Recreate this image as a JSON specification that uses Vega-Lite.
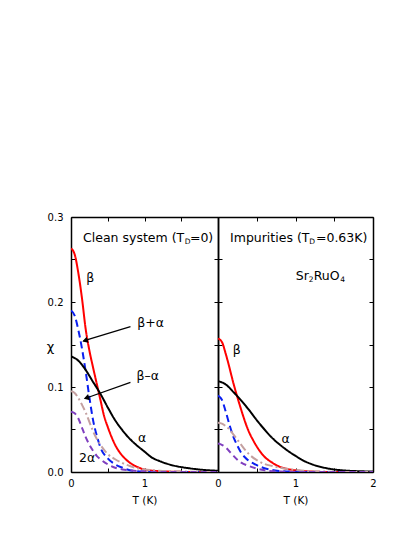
{
"$schema": "https://vega.github.io/schema/vega-lite/v6.json",
"padding": {"left": 46, "top": 212, "right": 0, "bottom": 0},
"spacing": 0,
"bounds": "flush",
"datasets": {
"curves": [
{"p":"c","s":"beta","T":0,"v":0.263},{"p":"c","s":"beta","T":0.05,"v":0.256},{"p":"c","s":"beta","T":0.1,"v":0.234},{"p":"c","s":"beta","T":0.15,"v":0.204},{"p":"c","s":"beta","T":0.2,"v":0.168},{"p":"c","s":"beta","T":0.25,"v":0.143},{"p":"c","s":"beta","T":0.3,"v":0.123},{"p":"c","s":"beta","T":0.35,"v":0.104},{"p":"c","s":"beta","T":0.4,"v":0.085},{"p":"c","s":"beta","T":0.45,"v":0.066},{"p":"c","s":"beta","T":0.5,"v":0.053},{"p":"c","s":"beta","T":0.6,"v":0.032},{"p":"c","s":"beta","T":0.7,"v":0.019},{"p":"c","s":"beta","T":0.8,"v":0.011},{"p":"c","s":"beta","T":0.9,"v":0.006},{"p":"c","s":"beta","T":1.0,"v":0.003},{"p":"c","s":"beta","T":1.2,"v":0.001},{"p":"c","s":"beta","T":1.4,"v":0.0003},{"p":"c","s":"beta","T":1.7,"v":0},{"p":"c","s":"beta","T":2.0,"v":0},
{"p":"c","s":"betaplus","T":0,"v":0.19},{"p":"c","s":"betaplus","T":0.05,"v":0.184},{"p":"c","s":"betaplus","T":0.1,"v":0.167},{"p":"c","s":"betaplus","T":0.15,"v":0.145},{"p":"c","s":"betaplus","T":0.2,"v":0.118},{"p":"c","s":"betaplus","T":0.25,"v":0.088},{"p":"c","s":"betaplus","T":0.3,"v":0.061},{"p":"c","s":"betaplus","T":0.35,"v":0.043},{"p":"c","s":"betaplus","T":0.4,"v":0.029},{"p":"c","s":"betaplus","T":0.5,"v":0.016},{"p":"c","s":"betaplus","T":0.6,"v":0.009},{"p":"c","s":"betaplus","T":0.7,"v":0.005},{"p":"c","s":"betaplus","T":0.8,"v":0.002},{"p":"c","s":"betaplus","T":0.9,"v":0.001},{"p":"c","s":"betaplus","T":1.0,"v":0.0005},{"p":"c","s":"betaplus","T":1.2,"v":0},{"p":"c","s":"betaplus","T":2.0,"v":0},
{"p":"c","s":"alpha","T":0,"v":0.136},{"p":"c","s":"alpha","T":0.1,"v":0.131},{"p":"c","s":"alpha","T":0.2,"v":0.12},{"p":"c","s":"alpha","T":0.3,"v":0.106},{"p":"c","s":"alpha","T":0.4,"v":0.092},{"p":"c","s":"alpha","T":0.5,"v":0.076},{"p":"c","s":"alpha","T":0.6,"v":0.061},{"p":"c","s":"alpha","T":0.7,"v":0.049},{"p":"c","s":"alpha","T":0.8,"v":0.039},{"p":"c","s":"alpha","T":0.9,"v":0.031},{"p":"c","s":"alpha","T":1.0,"v":0.024},{"p":"c","s":"alpha","T":1.1,"v":0.017},{"p":"c","s":"alpha","T":1.2,"v":0.013},{"p":"c","s":"alpha","T":1.4,"v":0.0075},{"p":"c","s":"alpha","T":1.6,"v":0.0045},{"p":"c","s":"alpha","T":1.8,"v":0.0025},{"p":"c","s":"alpha","T":2.0,"v":0.0015},
{"p":"c","s":"betaminus","T":0,"v":0.095},{"p":"c","s":"betaminus","T":0.05,"v":0.093},{"p":"c","s":"betaminus","T":0.1,"v":0.087},{"p":"c","s":"betaminus","T":0.15,"v":0.079},{"p":"c","s":"betaminus","T":0.2,"v":0.07},{"p":"c","s":"betaminus","T":0.25,"v":0.059},{"p":"c","s":"betaminus","T":0.3,"v":0.048},{"p":"c","s":"betaminus","T":0.35,"v":0.039},{"p":"c","s":"betaminus","T":0.4,"v":0.032},{"p":"c","s":"betaminus","T":0.45,"v":0.026},{"p":"c","s":"betaminus","T":0.5,"v":0.021},{"p":"c","s":"betaminus","T":0.6,"v":0.015},{"p":"c","s":"betaminus","T":0.7,"v":0.0105},{"p":"c","s":"betaminus","T":0.8,"v":0.007},{"p":"c","s":"betaminus","T":0.9,"v":0.0045},{"p":"c","s":"betaminus","T":1.0,"v":0.003},{"p":"c","s":"betaminus","T":1.2,"v":0.0015},{"p":"c","s":"betaminus","T":1.4,"v":0.0008},{"p":"c","s":"betaminus","T":1.6,"v":0.0004},{"p":"c","s":"betaminus","T":2.0,"v":0},
{"p":"c","s":"twoalpha","T":0,"v":0.071},{"p":"c","s":"twoalpha","T":0.05,"v":0.069},{"p":"c","s":"twoalpha","T":0.1,"v":0.063},{"p":"c","s":"twoalpha","T":0.15,"v":0.052},{"p":"c","s":"twoalpha","T":0.2,"v":0.041},{"p":"c","s":"twoalpha","T":0.25,"v":0.032},{"p":"c","s":"twoalpha","T":0.3,"v":0.025},{"p":"c","s":"twoalpha","T":0.35,"v":0.019},{"p":"c","s":"twoalpha","T":0.4,"v":0.015},{"p":"c","s":"twoalpha","T":0.5,"v":0.009},{"p":"c","s":"twoalpha","T":0.6,"v":0.005},{"p":"c","s":"twoalpha","T":0.7,"v":0.003},{"p":"c","s":"twoalpha","T":0.8,"v":0.002},{"p":"c","s":"twoalpha","T":1.0,"v":0.0005},{"p":"c","s":"twoalpha","T":1.2,"v":0},{"p":"c","s":"twoalpha","T":2.0,"v":0},
{"p":"i","s":"beta","T":0,"v":0.157},{"p":"i","s":"beta","T":0.05,"v":0.153},{"p":"i","s":"beta","T":0.1,"v":0.139},{"p":"i","s":"beta","T":0.15,"v":0.122},{"p":"i","s":"beta","T":0.2,"v":0.104},{"p":"i","s":"beta","T":0.25,"v":0.088},{"p":"i","s":"beta","T":0.3,"v":0.073},{"p":"i","s":"beta","T":0.35,"v":0.059},{"p":"i","s":"beta","T":0.4,"v":0.047},{"p":"i","s":"beta","T":0.45,"v":0.038},{"p":"i","s":"beta","T":0.5,"v":0.03},{"p":"i","s":"beta","T":0.6,"v":0.018},{"p":"i","s":"beta","T":0.7,"v":0.011},{"p":"i","s":"beta","T":0.8,"v":0.006},{"p":"i","s":"beta","T":0.9,"v":0.0035},{"p":"i","s":"beta","T":1.0,"v":0.002},{"p":"i","s":"beta","T":1.2,"v":0.0006},{"p":"i","s":"beta","T":1.4,"v":0},{"p":"i","s":"beta","T":2.0,"v":0},
{"p":"i","s":"betaplus","T":0,"v":0.09},{"p":"i","s":"betaplus","T":0.05,"v":0.085},{"p":"i","s":"betaplus","T":0.1,"v":0.071},{"p":"i","s":"betaplus","T":0.15,"v":0.055},{"p":"i","s":"betaplus","T":0.2,"v":0.041},{"p":"i","s":"betaplus","T":0.25,"v":0.031},{"p":"i","s":"betaplus","T":0.3,"v":0.0225},{"p":"i","s":"betaplus","T":0.35,"v":0.017},{"p":"i","s":"betaplus","T":0.4,"v":0.013},{"p":"i","s":"betaplus","T":0.45,"v":0.0105},{"p":"i","s":"betaplus","T":0.5,"v":0.008},{"p":"i","s":"betaplus","T":0.6,"v":0.0045},{"p":"i","s":"betaplus","T":0.7,"v":0.0025},{"p":"i","s":"betaplus","T":0.8,"v":0.001},{"p":"i","s":"betaplus","T":1.0,"v":0.0003},{"p":"i","s":"betaplus","T":1.2,"v":0},{"p":"i","s":"betaplus","T":2.0,"v":0},
{"p":"i","s":"alpha","T":0,"v":0.107},{"p":"i","s":"alpha","T":0.1,"v":0.103},{"p":"i","s":"alpha","T":0.2,"v":0.094},{"p":"i","s":"alpha","T":0.3,"v":0.084},{"p":"i","s":"alpha","T":0.4,"v":0.073},{"p":"i","s":"alpha","T":0.5,"v":0.061},{"p":"i","s":"alpha","T":0.6,"v":0.05},{"p":"i","s":"alpha","T":0.7,"v":0.04},{"p":"i","s":"alpha","T":0.8,"v":0.032},{"p":"i","s":"alpha","T":0.9,"v":0.025},{"p":"i","s":"alpha","T":1.0,"v":0.019},{"p":"i","s":"alpha","T":1.1,"v":0.0135},{"p":"i","s":"alpha","T":1.2,"v":0.0095},{"p":"i","s":"alpha","T":1.4,"v":0.0045},{"p":"i","s":"alpha","T":1.6,"v":0.002},{"p":"i","s":"alpha","T":1.8,"v":0.001},{"p":"i","s":"alpha","T":2.0,"v":0.0005},
{"p":"i","s":"betaminus","T":0,"v":0.058},{"p":"i","s":"betaminus","T":0.05,"v":0.057},{"p":"i","s":"betaminus","T":0.1,"v":0.054},{"p":"i","s":"betaminus","T":0.15,"v":0.05},{"p":"i","s":"betaminus","T":0.2,"v":0.044},{"p":"i","s":"betaminus","T":0.25,"v":0.038},{"p":"i","s":"betaminus","T":0.3,"v":0.032},{"p":"i","s":"betaminus","T":0.35,"v":0.026},{"p":"i","s":"betaminus","T":0.4,"v":0.021},{"p":"i","s":"betaminus","T":0.5,"v":0.014},{"p":"i","s":"betaminus","T":0.6,"v":0.0095},{"p":"i","s":"betaminus","T":0.7,"v":0.007},{"p":"i","s":"betaminus","T":0.8,"v":0.005},{"p":"i","s":"betaminus","T":0.9,"v":0.0035},{"p":"i","s":"betaminus","T":1.0,"v":0.0025},{"p":"i","s":"betaminus","T":1.2,"v":0.001},{"p":"i","s":"betaminus","T":1.4,"v":0.0005},{"p":"i","s":"betaminus","T":1.6,"v":0},{"p":"i","s":"betaminus","T":2.0,"v":0},
{"p":"i","s":"twoalpha","T":0,"v":0.0335},{"p":"i","s":"twoalpha","T":0.05,"v":0.032},{"p":"i","s":"twoalpha","T":0.1,"v":0.029},{"p":"i","s":"twoalpha","T":0.15,"v":0.024},{"p":"i","s":"twoalpha","T":0.2,"v":0.019},{"p":"i","s":"twoalpha","T":0.25,"v":0.0145},{"p":"i","s":"twoalpha","T":0.3,"v":0.011},{"p":"i","s":"twoalpha","T":0.4,"v":0.007},{"p":"i","s":"twoalpha","T":0.5,"v":0.004},{"p":"i","s":"twoalpha","T":0.6,"v":0.002},{"p":"i","s":"twoalpha","T":0.8,"v":0.0005},{"p":"i","s":"twoalpha","T":1.0,"v":0},{"p":"i","s":"twoalpha","T":2.0,"v":0}
],
"notes": [
{"p":"c","k":"main","a":"center","T":0.263,"v":0.2283,"t":"β"},
{"p":"c","k":"main","a":"center","T":1.082,"v":0.1755,"t":"β+α"},
{"p":"c","k":"main","a":"center","T":1.045,"v":0.1133,"t":"β–α"},
{"p":"c","k":"main","a":"center","T":0.969,"v":0.0401,"t":"α"},
{"p":"c","k":"main","a":"center","T":0.218,"v":0.0167,"t":"2α"},
{"p":"c","k":"main","a":"left","T":0.164,"v":0.2749,"t":"Clean system (T"},
{"p":"c","k":"sub","a":"left","T":1.546,"v":0.2705,"t":"D"},
{"p":"c","k":"main","a":"left","T":1.618,"v":0.2749,"t":"=0)"},
{"p":"i","k":"main","a":"center","T":0.241,"v":0.1438,"t":"β"},
{"p":"i","k":"main","a":"center","T":0.874,"v":0.0393,"t":"α"},
{"p":"i","k":"main","a":"left","T":0.155,"v":0.2749,"t":"Impurities (T"},
{"p":"i","k":"sub","a":"left","T":1.179,"v":0.2705,"t":"D"},
{"p":"i","k":"main","a":"left","T":1.264,"v":0.2749,"t":"=0.63K)"},
{"p":"i","k":"main","a":"left","T":1.003,"v":0.2306,"t":"Sr"},
{"p":"i","k":"sub","a":"left","T":1.17,"v":0.2259,"t":"2"},
{"p":"i","k":"main","a":"left","T":1.235,"v":0.2306,"t":"RuO"},
{"p":"i","k":"sub","a":"left","T":1.577,"v":0.2259,"t":"4"}
],
"arrows": [
{"T":0.809,"v":0.171,"T2":0.17,"v2":0.1543,"hT":0.19,"hv":0.1546},
{"T":0.809,"v":0.1054,"T2":0.19,"v2":0.0865,"hT":0.21,"hv":0.0871}
]
},
"hconcat": [
{
"width": 147, "height": 255,
"resolve": {"axis": {"x": "independent", "y": "independent"}},
"layer": [
{
"data": {"name": "curves"},
"transform": [{"filter": "datum.p == 'c'"}],
"mark": {"type": "line", "strokeWidth": 2, "interpolate": "monotone", "clip": true},
"encoding": {
"x": {"field": "T", "type": "quantitative", "scale": {"domain": [0, 2], "nice": false, "zero": false},
"axis": {"orient": "bottom", "values": [0, 0.5, 1, 1.5, 2], "format": ".1f", "labelExpr": "datum.value == 0 || datum.value == 1 ? format(datum.value, 'd') : ''", "title": "T (K)"}},
"y": {"field": "v", "type": "quantitative", "scale": {"domain": [0, 0.3], "nice": false},
"axis": {"orient": "left", "values": [0, 0.05, 0.1, 0.15, 0.2, 0.25, 0.3], "labelExpr": "round(datum.value * 100) % 10 == 0 ? format(datum.value, '.1f') : ''", "title": "χ", "titleAngle": 0, "titleAlign": "center", "titleBaseline": "middle", "titleX": -21, "titleY": 129, "titleFontSize": 13}},
"color": {"field": "s", "type": "nominal", "legend": null, "scale": {"domain": ["alpha", "twoalpha", "betaminus", "betaplus", "beta"], "range": ["#000000", "#7f3fbf", "#c4a0a0", "#0a1ff0", "#ff0000"]}},
"strokeDash": {"field": "s", "type": "nominal", "legend": null, "scale": {"domain": ["alpha", "twoalpha", "betaminus", "betaplus", "beta"], "range": [[1, 0], [6, 4], [8, 3, 2, 3], [7, 4], [1, 0]]}}
}
},
{
"data": {"name": "curves"},
"transform": [{"filter": "datum.p == 'c'"}],
"mark": {"type": "point", "opacity": 0},
"encoding": {
"x": {"field": "T", "type": "quantitative", "axis": {"orient": "top", "values": [0, 0.5, 1, 1.5, 2], "labels": false, "title": null}},
"y": {"field": "v", "type": "quantitative", "axis": {"orient": "right", "values": [0, 0.05, 0.1, 0.15, 0.2, 0.25, 0.3], "labels": false, "title": null}}
}
},
{
"data": {"name": "arrows"},
"mark": {"type": "rule", "color": "black", "strokeWidth": 1.2},
"encoding": {
"x": {"field": "T", "type": "quantitative", "axis": null}, "y": {"field": "v", "type": "quantitative", "axis": null},
"x2": {"field": "T2"}, "y2": {"field": "v2"}
}
},
{
"data": {"name": "arrows"},
"mark": {"type": "point", "shape": "triangle-right", "filled": true, "color": "black", "opacity": 1, "size": 40, "angle": 162},
"encoding": {
"x": {"field": "hT", "type": "quantitative", "axis": null}, "y": {"field": "hv", "type": "quantitative", "axis": null}
}
},
{
"data": {"name": "notes"},
"transform": [{"filter": "datum.p == 'c' && datum.k == 'main' && datum.a == 'center'"}],
"mark": {"type": "text", "fontSize": 12.5, "align": "center", "baseline": "middle", "font": "DejaVu Sans", "color": "black"},
"encoding": {"x": {"field": "T", "type": "quantitative", "axis": null}, "y": {"field": "v", "type": "quantitative", "axis": null}, "text": {"field": "t"}}
},
{
"data": {"name": "notes"},
"transform": [{"filter": "datum.p == 'c' && datum.k == 'main' && datum.a == 'left'"}],
"mark": {"type": "text", "fontSize": 12.5, "align": "left", "baseline": "middle", "font": "DejaVu Sans", "color": "black"},
"encoding": {"x": {"field": "T", "type": "quantitative", "axis": null}, "y": {"field": "v", "type": "quantitative", "axis": null}, "text": {"field": "t"}}
},
{
"data": {"name": "notes"},
"transform": [{"filter": "datum.p == 'c' && datum.k == 'sub'"}],
"mark": {"type": "text", "fontSize": 7.5, "align": "left", "baseline": "middle", "font": "DejaVu Sans", "color": "black"},
"encoding": {"x": {"field": "T", "type": "quantitative", "axis": null}, "y": {"field": "v", "type": "quantitative", "axis": null}, "text": {"field": "t"}}
}
]
},
{
"width": 155, "height": 255,
"resolve": {"axis": {"x": "independent", "y": "independent"}},
"layer": [
{
"data": {"name": "curves"},
"transform": [{"filter": "datum.p == 'i'"}],
"mark": {"type": "line", "strokeWidth": 2, "interpolate": "monotone", "clip": true},
"encoding": {
"x": {"field": "T", "type": "quantitative", "scale": {"domain": [0, 2], "nice": false, "zero": false},
"axis": {"orient": "bottom", "values": [0, 0.5, 1, 1.5, 2], "format": ".1f", "labelExpr": "datum.value == 0 || datum.value == 1 || datum.value == 2 ? format(datum.value, 'd') : ''", "title": "T (K)"}},
"y": {"field": "v", "type": "quantitative", "scale": {"domain": [0, 0.3], "nice": false},
"axis": {"orient": "left", "values": [0, 0.05, 0.1, 0.15, 0.2, 0.25, 0.3], "labels": false, "title": null}},
"color": {"field": "s", "type": "nominal", "legend": null, "scale": {"domain": ["alpha", "twoalpha", "betaminus", "betaplus", "beta"], "range": ["#000000", "#7f3fbf", "#c4a0a0", "#0a1ff0", "#ff0000"]}},
"strokeDash": {"field": "s", "type": "nominal", "legend": null, "scale": {"domain": ["alpha", "twoalpha", "betaminus", "betaplus", "beta"], "range": [[1, 0], [6, 4], [8, 3, 2, 3], [7, 4], [1, 0]]}}
}
},
{
"data": {"name": "curves"},
"transform": [{"filter": "datum.p == 'i'"}],
"mark": {"type": "point", "opacity": 0},
"encoding": {
"x": {"field": "T", "type": "quantitative", "axis": {"orient": "top", "values": [0, 0.5, 1, 1.5, 2], "labels": false, "title": null}},
"y": {"field": "v", "type": "quantitative", "axis": {"orient": "right", "values": [0, 0.05, 0.1, 0.15, 0.2, 0.25, 0.3], "labels": false, "title": null}}
}
},
{
"data": {"name": "notes"},
"transform": [{"filter": "datum.p == 'i' && datum.k == 'main' && datum.a == 'center'"}],
"mark": {"type": "text", "fontSize": 12.5, "align": "center", "baseline": "middle", "font": "DejaVu Sans", "color": "black"},
"encoding": {"x": {"field": "T", "type": "quantitative", "axis": null}, "y": {"field": "v", "type": "quantitative", "axis": null}, "text": {"field": "t"}}
},
{
"data": {"name": "notes"},
"transform": [{"filter": "datum.p == 'i' && datum.k == 'main' && datum.a == 'left'"}],
"mark": {"type": "text", "fontSize": 12.5, "align": "left", "baseline": "middle", "font": "DejaVu Sans", "color": "black"},
"encoding": {"x": {"field": "T", "type": "quantitative", "axis": null}, "y": {"field": "v", "type": "quantitative", "axis": null}, "text": {"field": "t"}}
},
{
"data": {"name": "notes"},
"transform": [{"filter": "datum.p == 'i' && datum.k == 'sub'"}],
"mark": {"type": "text", "fontSize": 7.5, "align": "left", "baseline": "middle", "font": "DejaVu Sans", "color": "black"},
"encoding": {"x": {"field": "T", "type": "quantitative", "axis": null}, "y": {"field": "v", "type": "quantitative", "axis": null}, "text": {"field": "t"}}
}
]
}
],
"config": {
"view": {"stroke": null},
"axis": {"grid": false, "domainColor": "black", "domainWidth": 1.5, "tickColor": "black", "tickWidth": 1, "tickSize": -4, "labelPadding": 12, "labelFont": "DejaVu Sans", "labelFontSize": 10, "labelColor": "black", "labelFlush": false, "labelOverlap": false, "titleFont": "DejaVu Sans", "titleFontSize": 10.5, "titleFontWeight": "normal", "titleColor": "black", "titlePadding": 4},
"axisX": {"labelPadding": 10, "titlePadding": 7}
}
}
